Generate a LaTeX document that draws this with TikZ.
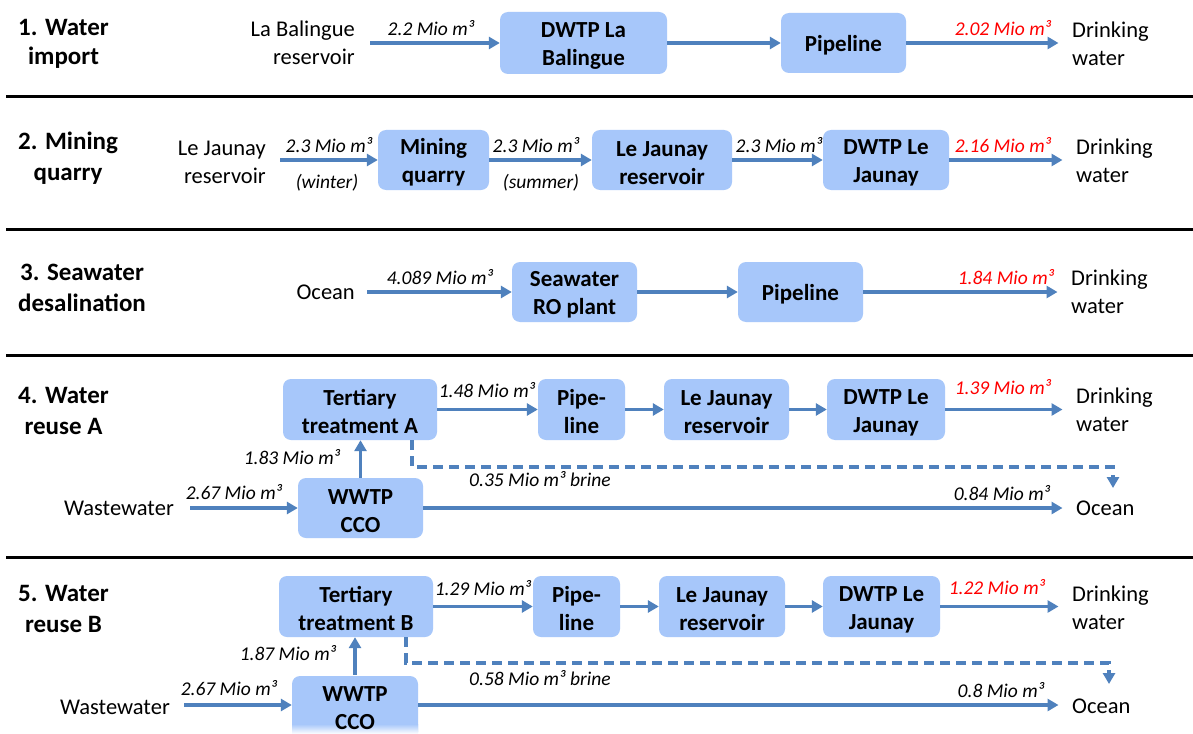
\documentclass[tikz,border=0pt]{standalone}
\usepackage{fontspec}
\setmainfont{Carlito}
\usetikzlibrary{arrows.meta,calc}
\definecolor{boxfill}{HTML}{A7C7FA}
\definecolor{flowc}{HTML}{4F81BD}
\definecolor{redc}{HTML}{FF0000}
\newcommand{\tup}{\rule{0pt}{21pt}}
\tikzset{
  box/.style={fill=boxfill, rounded corners=8pt, align=center, inner sep=0pt,
    font=\fontsize{23}{28}\selectfont\bfseries},
  onebox/.style={box, execute at begin node={\rule{0pt}{21pt}}},
  title/.style={font=\fontsize{25}{31}\selectfont\bfseries, align=center, anchor=west, inner sep=0pt},
  plain/.style={font=\fontsize{22.5}{28}\selectfont, inner sep=0pt},
  lbl/.style={font=\fontsize{19.5}{23}\selectfont\itshape, inner sep=0pt},
  rlbl/.style={lbl, text=redc},
  flow/.style={draw=flowc, line width=3.5pt, -{Triangle[length=11pt,width=12pt]}},
  brine/.style={flow, dash pattern=on 10pt off 6pt},
  sepline/.style={line width=3pt, black},
}
\begin{document}
\begin{tikzpicture}[x=1pt,y=-1pt]
\useasboundingbox[fill=white] (0,0) rectangle (1193,733);

% separators
\draw[sepline] (6,97) -- (1193,97);
\draw[sepline] (6,229) -- (1193,229);
\draw[sepline] (6,355) -- (1193,355);
\draw[sepline] (6,557) -- (1193,557);

% ---------- Row 1 ----------
\node[title, font=\fontsize{25}{28.5}\selectfont\bfseries] (t1) at (18,44) {1. Water\\import};
\node[plain, align=right, anchor=east] (s1) at (355,43) {La Balingue\\reservoir};
\node[box, minimum width=167pt, minimum height=62pt] (b11) at (583.5,43) {\tup DWTP La\\Balingue};
\node[onebox, minimum width=125pt, minimum height=60pt] (b12) at (843.5,43) {Pipeline};
\node[plain, align=left, anchor=west] (d1) at (1072,44) {Drinking\\water};
\draw[flow, shorten <=15pt] (s1.east |- b11) -- (b11.west);
\draw[flow] (b11.east) -- (b12.west);
\draw[flow, shorten >=13.5pt] (b12.east) -- (d1.west |- b12);
\node[lbl] (l11) at (431,28) {2.2 Mio m³};
\node[rlbl] (l12) at (1003,28) {2.02 Mio m³};

% ---------- Row 2 ----------
\node[title] (t2) at (18,158) {2. Mining\\quarry};
\node[plain, align=right, anchor=east] (s2) at (266,162) {Le Jaunay\\reservoir};
\node[box, minimum width=111pt, minimum height=60pt] (b21) at (433.5,160) {\tup Mining\\quarry};
\node[box, minimum width=140pt, minimum height=60pt] (b22) at (662,160) {\tup Le Jaunay\\reservoir};
\node[box, minimum width=126pt, minimum height=60pt] (b23) at (886,160) {\tup DWTP Le\\Jaunay};
\node[plain, align=left, anchor=west] (d2) at (1076,161) {Drinking\\water};
\draw[flow, shorten <=14pt] (s2.east |- b21) -- (b21.west);
\draw[flow] (b21.east) -- (b22.west);
\draw[flow] (b22.east) -- (b23.west);
\draw[flow, shorten >=13.5pt] (b23.east) -- (d2.west |- b23);
\node[lbl] (l21) at (329,145) {2.3 Mio m³};
\node[lbl] (l21w) at (327,183) {(winter)};
\node[lbl] (l22) at (536,145) {2.3 Mio m³};
\node[lbl] (l22s) at (541,183) {(summer)};
\node[lbl] (l23) at (779,145) {2.3 Mio m³};
\node[rlbl] (l24) at (1003,145) {2.16 Mio m³};

% ---------- Row 3 ----------
\node[title] (t3) at (18,288) {3. Seawater\\desalination};
\node[plain, anchor=east] (s3) at (355,292) {Ocean};
\node[box, minimum width=125pt, minimum height=60pt] (b31) at (574.5,292) {\tup Seawater\\RO plant};
\node[onebox, minimum width=125pt, minimum height=60pt] (b32) at (800.5,292) {Pipeline};
\node[plain, align=left, anchor=west] (d3) at (1071,292) {Drinking\\water};
\draw[flow, shorten <=12pt] (s3.east |- b31) -- (b31.west);
\draw[flow] (b31.east) -- (b32.west);
\draw[flow, shorten >=13.5pt] (b32.east) -- (d3.west |- b32);
\node[lbl] (l31) at (440,277) {4.089 Mio m³};
\node[rlbl] (l32) at (1006,277) {1.84 Mio m³};

% ---------- Row 4 ----------
\node[title] (t4) at (18,411) {4. Water\\reuse A};
\node[box, minimum width=154pt, minimum height=61pt] (tt4) at (360,409.5) {\tup Tertiary\\treatment A};
\node[box, minimum width=87pt, minimum height=61pt] (p4) at (581.5,409.5) {\tup Pipe-\\line};
\node[box, minimum width=125pt, minimum height=61pt] (r4) at (726.5,409.5) {\tup Le Jaunay\\reservoir};
\node[box, minimum width=118pt, minimum height=61pt] (dw4) at (886,409.5) {\tup DWTP Le\\Jaunay};
\node[plain, align=left, anchor=west] (d4) at (1076,410) {Drinking\\water};
\node[box, minimum width=125pt, minimum height=60pt] (w4) at (360.5,508) {\tup WWTP\\CCO};
\node[plain, anchor=east] (s4) at (174,508) {Wastewater};
\node[plain, anchor=west] (o4) at (1076,508) {Ocean};
\coordinate (br4) at (1113,467);
\coordinate (o4tip) at (1113,488);
\draw[flow] (tt4.east) -- (p4.west);
\draw[flow] (p4.east) -- (r4.west);
\draw[flow] (r4.east) -- (dw4.west);
\draw[flow, shorten >=13.5pt] (dw4.east) -- (d4.west |- dw4);
\draw[flow, shorten <=16pt] (s4.east |- w4) -- (w4.west);
\draw[flow] (w4.north) -- (w4.north |- tt4.south);
\draw[flow, shorten >=13.5pt] (w4.east) -- (o4.west |- w4);
\draw[brine] ([xshift=-25pt]tt4.south east) |- (br4) -- (o4tip);
\node[lbl] (l41) at (487,390) {1.48 Mio m³};
\node[rlbl] (l42) at (1003,387) {1.39 Mio m³};
\node[lbl] (l43) at (292,457) {1.83 Mio m³};
\node[lbl] (l44) at (234,492) {2.67 Mio m³};
\node[lbl, anchor=west] (l45) at (469,479) {0.35 Mio m³ brine};
\node[lbl] (l46) at (1002,493) {0.84 Mio m³};

% ---------- Row 5 ----------
\node[title] (t5) at (18,609) {5. Water\\reuse B};
\node[box, minimum width=154pt, minimum height=61pt] (tt5) at (356,606.5) {\tup Tertiary\\treatment B};
\node[box, minimum width=87pt, minimum height=61pt] (p5) at (576.5,606.5) {\tup Pipe-\\line};
\node[box, minimum width=126pt, minimum height=61pt] (r5) at (722,606.5) {\tup Le Jaunay\\reservoir};
\node[box, minimum width=117pt, minimum height=61pt] (dw5) at (881.5,606.5) {\tup DWTP Le\\Jaunay};
\node[plain, align=left, anchor=west] (d5) at (1072,608) {Drinking\\water};
\fill[boxfill, rounded corners=8pt] (292,676) rectangle (418,740);
\shade[top color=boxfill, bottom color=white] (292,724) rectangle (418,734);
\node[box, fill=none, minimum width=126pt, minimum height=60pt] (w5) at (355,705) {\tup WWTP\\CCO};
\node[plain, anchor=east] (s5) at (170,707) {Wastewater};
\node[plain, anchor=west] (o5) at (1072,706) {Ocean};
\coordinate (br5) at (1109,663);
\coordinate (o5tip) at (1109,684);
\draw[flow] (tt5.east) -- (p5.west);
\draw[flow] (p5.east) -- (r5.west);
\draw[flow] (r5.east) -- (dw5.west);
\draw[flow, shorten >=13.5pt] (dw5.east) -- (d5.west |- dw5);
\draw[flow, shorten <=14pt] (s5.east |- w5) -- (w5.west);
\draw[flow] (w5.north) -- (w5.north |- tt5.south);
\draw[flow, shorten >=13.5pt] (w5.east) -- (o5.west |- w5);
\draw[brine] ([xshift=-27pt]tt5.south east) |- (br5) -- (o5tip);
\node[lbl] (l51) at (483,588) {1.29 Mio m³};
\node[rlbl] (l52) at (997,587) {1.22 Mio m³};
\node[lbl] (l53) at (288,653) {1.87 Mio m³};
\node[lbl] (l54) at (229,688) {2.67 Mio m³};
\node[lbl, anchor=west] (l55) at (469,678) {0.58 Mio m³ brine};
\node[lbl] (l56) at (1001,690) {0.8 Mio m³};
\end{tikzpicture}
\end{document}
